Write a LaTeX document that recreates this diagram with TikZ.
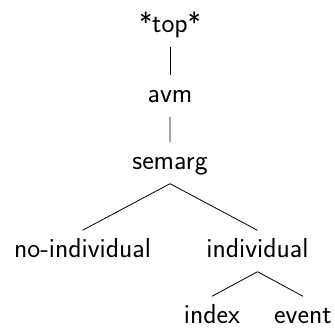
\documentclass[tikz,border=0pt]{standalone}
\usetikzlibrary{trees}
\begin{document}
\begin{tikzpicture}[x=1pt, y=1pt, font=\fontsize{27.5}{33}\selectfont\sffamily, every node/.style={text height=19pt, text depth=6pt, inner sep=8pt}, edge from parent/.style={draw, line width=0.8pt}, edge from parent path={(\tikzparentnode.south) -- (\tikzchildnode.north)}, level 1/.style={level distance=70pt}, level 2/.style={level distance=67pt}, level 3/.style={level distance=88pt, sibling distance=175pt}, level 4/.style={level distance=66pt, sibling distance=91pt}]
\useasboundingbox (0,0) rectangle (335,-327);
\node (top) at (170,-26) {*top*}
    child { node (avm) {avm}
        child { node (semarg) {semarg}
            child { node (noind) {no-individual} }
            child { node (ind) {individual}
                child { node (index) {index} }
                child { node (event) {event} }
            }
        }
    };
\end{tikzpicture}
\end{document}
